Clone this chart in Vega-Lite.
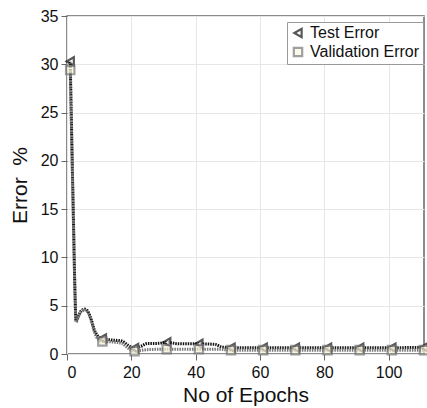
{
  "$schema": "https://vega.github.io/schema/vega-lite/v6.json",
  "width": 357,
  "height": 338,
  "autosize": "none",
  "padding": {"left": 67, "top": 16, "right": 3, "bottom": 54},
  "background": "white",
  "config": {
    "font": "Liberation Sans",
    "view": {"stroke": "#666", "strokeWidth": 1.5},
    "axis": {"gridColor": "#e6e6e6", "gridWidth": 1, "domain": false, "tickColor": "#666", "tickSize": 6, "labelColor": "#111", "titleColor": "#111", "labelFontSize": 16, "titleFontSize": 21, "titleFontWeight": "normal"},
    "legend": {"title": null, "orient": "none", "legendX": 220, "legendY": 6, "labelFontSize": 16, "labelColor": "#111", "symbolSize": 70, "symbolStrokeWidth": 2.2, "fillColor": "white", "strokeColor": "#999", "padding": 3, "rowPadding": 1, "labelOffset": 4}
  },
  "datasets": {
    "lines": [
      {"epoch": 1, "err": 30.3, "series": "Test Error"},
      {"epoch": 1.5, "err": 22, "series": "Test Error"},
      {"epoch": 2, "err": 14, "series": "Test Error"},
      {"epoch": 2.5, "err": 6.2, "series": "Test Error"},
      {"epoch": 2.8, "err": 3.4, "series": "Test Error"},
      {"epoch": 3.5, "err": 3.9, "series": "Test Error"},
      {"epoch": 4.5, "err": 4.5, "series": "Test Error"},
      {"epoch": 5.5, "err": 4.65, "series": "Test Error"},
      {"epoch": 6.5, "err": 4.4, "series": "Test Error"},
      {"epoch": 7.5, "err": 3.6, "series": "Test Error"},
      {"epoch": 8.5, "err": 2.5, "series": "Test Error"},
      {"epoch": 9.5, "err": 1.9, "series": "Test Error"},
      {"epoch": 11, "err": 1.6, "series": "Test Error"},
      {"epoch": 14, "err": 1.45, "series": "Test Error"},
      {"epoch": 17, "err": 1.35, "series": "Test Error"},
      {"epoch": 19, "err": 0.9, "series": "Test Error"},
      {"epoch": 21, "err": 0.6, "series": "Test Error"},
      {"epoch": 23, "err": 0.8, "series": "Test Error"},
      {"epoch": 25, "err": 1.1, "series": "Test Error"},
      {"epoch": 28, "err": 1.1, "series": "Test Error"},
      {"epoch": 31, "err": 1.2, "series": "Test Error"},
      {"epoch": 35, "err": 1.05, "series": "Test Error"},
      {"epoch": 41, "err": 1.05, "series": "Test Error"},
      {"epoch": 46, "err": 1.0, "series": "Test Error"},
      {"epoch": 48, "err": 0.75, "series": "Test Error"},
      {"epoch": 51, "err": 0.65, "series": "Test Error"},
      {"epoch": 61, "err": 0.65, "series": "Test Error"},
      {"epoch": 71, "err": 0.65, "series": "Test Error"},
      {"epoch": 81, "err": 0.65, "series": "Test Error"},
      {"epoch": 91, "err": 0.65, "series": "Test Error"},
      {"epoch": 101, "err": 0.65, "series": "Test Error"},
      {"epoch": 111, "err": 0.7, "series": "Test Error"},
      {"epoch": 1, "err": 29.4, "series": "Validation Error"},
      {"epoch": 1.5, "err": 21.5, "series": "Validation Error"},
      {"epoch": 2, "err": 13.6, "series": "Validation Error"},
      {"epoch": 2.5, "err": 6.0, "series": "Validation Error"},
      {"epoch": 2.8, "err": 3.3, "series": "Validation Error"},
      {"epoch": 3.5, "err": 3.8, "series": "Validation Error"},
      {"epoch": 4.5, "err": 4.4, "series": "Validation Error"},
      {"epoch": 5.5, "err": 4.55, "series": "Validation Error"},
      {"epoch": 6.5, "err": 4.3, "series": "Validation Error"},
      {"epoch": 7.5, "err": 3.5, "series": "Validation Error"},
      {"epoch": 8.5, "err": 2.3, "series": "Validation Error"},
      {"epoch": 9.5, "err": 1.6, "series": "Validation Error"},
      {"epoch": 11, "err": 1.3, "series": "Validation Error"},
      {"epoch": 14, "err": 1.25, "series": "Validation Error"},
      {"epoch": 17, "err": 1.1, "series": "Validation Error"},
      {"epoch": 19, "err": 0.6, "series": "Validation Error"},
      {"epoch": 21, "err": 0.3, "series": "Validation Error"},
      {"epoch": 25, "err": 0.45, "series": "Validation Error"},
      {"epoch": 31, "err": 0.5, "series": "Validation Error"},
      {"epoch": 41, "err": 0.5, "series": "Validation Error"},
      {"epoch": 47, "err": 0.5, "series": "Validation Error"},
      {"epoch": 51, "err": 0.4, "series": "Validation Error"},
      {"epoch": 61, "err": 0.4, "series": "Validation Error"},
      {"epoch": 71, "err": 0.4, "series": "Validation Error"},
      {"epoch": 81, "err": 0.4, "series": "Validation Error"},
      {"epoch": 91, "err": 0.4, "series": "Validation Error"},
      {"epoch": 101, "err": 0.4, "series": "Validation Error"},
      {"epoch": 111, "err": 0.4, "series": "Validation Error"}
    ],
    "markers": [
      {"epoch": 1, "err": 30.3, "series": "Test Error"},
      {"epoch": 11, "err": 1.6, "series": "Test Error"},
      {"epoch": 21, "err": 0.6, "series": "Test Error"},
      {"epoch": 31, "err": 1.2, "series": "Test Error"},
      {"epoch": 41, "err": 1.05, "series": "Test Error"},
      {"epoch": 51, "err": 0.65, "series": "Test Error"},
      {"epoch": 61, "err": 0.65, "series": "Test Error"},
      {"epoch": 71, "err": 0.65, "series": "Test Error"},
      {"epoch": 81, "err": 0.65, "series": "Test Error"},
      {"epoch": 91, "err": 0.65, "series": "Test Error"},
      {"epoch": 101, "err": 0.65, "series": "Test Error"},
      {"epoch": 111, "err": 0.7, "series": "Test Error"},
      {"epoch": 1, "err": 29.4, "series": "Validation Error"},
      {"epoch": 11, "err": 1.3, "series": "Validation Error"},
      {"epoch": 21, "err": 0.3, "series": "Validation Error"},
      {"epoch": 31, "err": 0.5, "series": "Validation Error"},
      {"epoch": 41, "err": 0.5, "series": "Validation Error"},
      {"epoch": 51, "err": 0.4, "series": "Validation Error"},
      {"epoch": 61, "err": 0.4, "series": "Validation Error"},
      {"epoch": 71, "err": 0.4, "series": "Validation Error"},
      {"epoch": 81, "err": 0.4, "series": "Validation Error"},
      {"epoch": 91, "err": 0.4, "series": "Validation Error"},
      {"epoch": 101, "err": 0.4, "series": "Validation Error"},
      {"epoch": 111, "err": 0.4, "series": "Validation Error"}
    ]
  },
  "layer": [
    {
      "data": {"name": "lines"},
      "mark": {"type": "line", "interpolate": "monotone", "strokeWidth": 3, "strokeDash": [1.5, 1], "clip": true},
      "encoding": {
        "x": {"field": "epoch", "type": "quantitative", "scale": {"domain": [0, 111], "nice": false, "zero": false},
          "axis": {"title": "No of Epochs", "values": [0, 20, 40, 60, 80, 100], "labelPadding": 4, "titlePadding": 4}},
        "y": {"field": "err", "type": "quantitative", "scale": {"domain": [0, 35], "nice": false},
          "axis": {"title": "Error\u00a0\u00a0%", "values": [0, 5, 10, 15, 20, 25, 30, 35], "labelPadding": 3, "titlePadding": 10}},
        "stroke": {"field": "series", "type": "nominal", "scale": {"domain": ["Test Error", "Validation Error"], "range": ["#111111", "#777777"]}},
        "detail": {"field": "series"}
      }
    },
    {
      "data": {"name": "markers"},
      "mark": {"type": "point", "filled": false, "size": 70, "strokeWidth": 2.2, "clip": false},
      "encoding": {
        "x": {"field": "epoch", "type": "quantitative"},
        "y": {"field": "err", "type": "quantitative"},
        "stroke": {"field": "series", "type": "nominal", "scale": {"domain": ["Test Error", "Validation Error"], "range": ["#111111", "#777777"]}},
        "shape": {"field": "series", "type": "nominal", "scale": {"domain": ["Test Error", "Validation Error"], "range": ["triangle-left", "square"]}},
        "fill": {"field": "series", "type": "nominal", "scale": {"domain": ["Test Error", "Validation Error"], "range": ["#ffffff", "#f6f3d6"]}}
      }
    }
  ]
}
